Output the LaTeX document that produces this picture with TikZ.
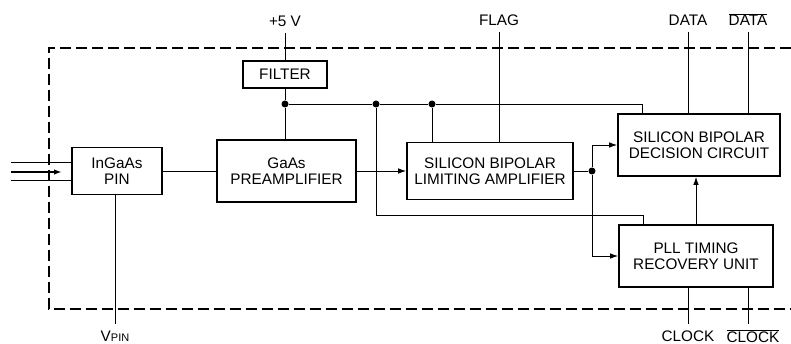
\documentclass[tikz,border=0pt]{standalone}
\usepackage{fontspec}
\setmainfont{Liberation Sans}
\usetikzlibrary{arrows.meta}

\begin{document}
\begin{tikzpicture}[x=1pt,y=-1pt,
    font=\fontsize{15.3}{16.5}\selectfont,
    block/.style={draw, line width=1.7pt, align=center, inner sep=0pt},
    lab/.style={inner sep=0pt, outer sep=6pt, text height=11pt, text depth=0pt, anchor=base},
    wire/.style={line width=0.9pt},
    sig/.style={wire, -{Latex[length=8pt,width=5.5pt]}},
    dot/.style={circle, fill, inner sep=0pt, minimum size=7pt}]
    \useasboundingbox (0,0) rectangle (791,344);

    % Module outline
    \draw[line width=1.2pt, dash pattern=on 11pt off 5pt] (791,48) -- (49,48) -- (49,309) -- (791,309);

    % Blocks
    \node[block, minimum width=90pt, minimum height=47pt] (pin) at (117,171) {InGaAs\\PIN};
    \node[block, minimum width=139pt, minimum height=62pt] (pre) at (286.5,171) {GaAs\\PREAMPLIFIER};
    \node[block, minimum width=84pt, minimum height=27pt] (filt) at (285,74.5) {FILTER};
    \node[block, minimum width=166pt, minimum height=57pt] (lim) at (490,171) {SILICON BIPOLAR\\LIMITING AMPLIFIER};
    \node[block, minimum width=162pt, minimum height=62pt] (dec) at (699,145) {SILICON BIPOLAR\\DECISION CIRCUIT};
    \node[block, minimum width=154pt, minimum height=62pt] (pll) at (696,256) {PLL TIMING\\RECOVERY UNIT};

    % Junctions
    \foreach \n/\x/\y in {j1/285/104, j2/376/104, j3/432/104, j4/592/171}
        \node[dot] (\n) at (\x,\y) {};
    \coordinate (dtap) at (642,104);
    \coordinate (ptap) at (643,215);

    % Outside terminals
    \node[lab] (vcc) at (285,27) {+5 V};
    \node[lab] (flag) at (499,26) {FLAG};
    \node[lab] (data) at (688,26) {DATA};
    \node[lab] (ndata) at (748,26) {$\overline{\hbox{DATA}}$};
    \node[lab] (clk) at (688,341) {CLOCK};
    \node[lab] (nclk) at (753,342) {$\overline{\hbox{CLOCK}}$};
    \node[lab] (vpin) at (115,341) {V{\fontsize{11}{12}\selectfont PIN}};

    % Optical input
    \coordinate (in0) at (11,162);
    \coordinate (in1) at (11,180);
    \coordinate (a0) at (11,172);
    \coordinate (a1) at (62,172);
    \draw[wire] (in0) -- (in0 -| pin.west);
    \draw[wire] (in1) -- (in1 -| pin.west);
    \draw[sig, line width=1.7pt] (a0) -- (a1);

    % Signal path
    \draw[wire] (pin) -- (pre);
    \draw[sig] (pre) -- (lim);
    \draw[wire] (lim) -- (j4);
    \draw[sig] (j4) |- (dec);
    \draw[sig] (j4) |- (pll);
    \draw[sig] (pll.north) -- (pll.north |- dec.south);

    % Supply
    \draw[wire] (vcc) -- (filt);
    \draw[wire] (filt) -- (j1) -- (j1 |- pre.north);
    \draw[wire] (j1) -- (j2) -- (j3) -- (dtap) -- (dtap |- dec.north);
    \draw[wire] (j3) -- (j3 |- lim.north);
    \draw[wire] (j2) |- (ptap) -- (ptap |- pll.north);

    % Terminal leads
    \draw[wire] (flag) -- (flag |- lim.north);
    \draw[wire] (data) -- (data |- dec.north);
    \draw[wire] (ndata) -- (ndata |- dec.north);
    \draw[wire] (clk |- pll.south) -- (clk);
    \draw[wire] (ndata |- pll.south) -- (ndata |- clk.north);
    \draw[wire] (vpin |- pin.south) -- (vpin);
\end{tikzpicture}
\end{document}
